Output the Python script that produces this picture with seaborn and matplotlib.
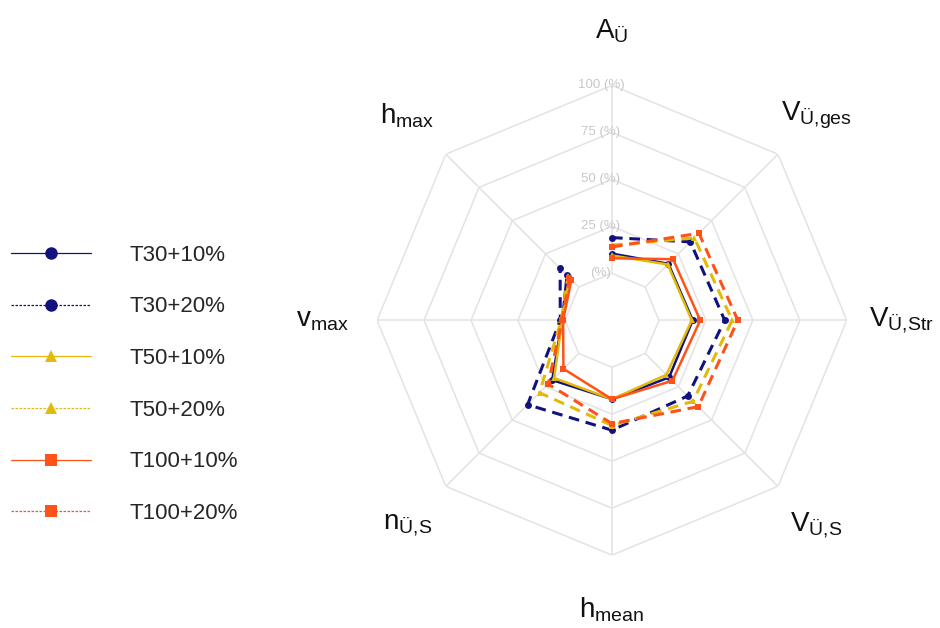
import matplotlib
matplotlib.use("Agg")
import matplotlib.pyplot as plt
from matplotlib.lines import Line2D
import numpy as np
import pandas as pd
import seaborn as sns

axis_labels = [
    r"$\mathregular{A_{Ü}}$",
    r"$\mathregular{V_{Ü{,}ges}}$",
    r"$\mathregular{V_{Ü{,}Str}}$",
    r"$\mathregular{V_{Ü{,}S}}$",
    r"$\mathregular{h_{mean}}$",
    r"$\mathregular{n_{Ü{,}S}}$",
    r"$\mathregular{v_{max}}$",
    r"$\mathregular{h_{max}}$",
]

series_names = ["T30+10%", "T30+20%", "T50+10%", "T50+20%", "T100+10%", "T100+20%"]

# values in % per axis (A, Vges, VStr, VS, hmean, nS, vmax, hmax)
t30_10 = [10.5, 17.5, 18.0, 18.0, 17.0, 20.0, 1.5, 9.0]
t30_20 = [19.0, 34.0, 35.0, 32.0, 33.5, 38.5, 2.5, 14.0]
t50_10 = [9.5, 17.0, 17.5, 16.0, 17.0, 18.5, 1.5, 7.0]
t50_20 = [15.0, 37.0, 39.0, 36.0, 31.0, 29.5, 2.0, 8.0]
t100_10 = [8.0, 21.0, 22.0, 20.5, 17.0, 11.5, 1.0, 5.5]
t100_20 = [14.0, 40.5, 42.0, 40.0, 30.0, 23.0, 1.5, 7.0]

ring_values = [0, 25, 50, 75, 100]
ring_labels = ["(%)", "25 (%)", "50 (%)", "75 (%)", "100 (%)"]

series_values = [t30_10, t30_20, t50_10, t50_20, t100_10, t100_20]
colors = ["#12127f", "#12127f", "#e3b90a", "#e3b90a", "#ff5218", "#ff5218"]
markers = ["o", "o", "^", "^", "s", "s"]
solid = [True, False, True, False, True, False]

sns.set_style("white")
plt.rcParams["font.family"] = ["Liberation Sans", "DejaVu Sans"]

fig = plt.figure(figsize=(9.4, 6.28), dpi=100)
ax = fig.add_axes([0.401, 0.116, 0.5, 0.748], projection="polar")
ax.set_theta_zero_location("N")
ax.set_theta_direction(-1)
ax.set_ylim(-25, 100)
ax.axis("off")

n = len(axis_labels)
theta = np.linspace(0, 2 * np.pi, n, endpoint=False)
theta_closed = np.append(theta, theta[0])

# octagon grid
for rv in ring_values:
    ax.plot(theta_closed, [rv] * (n + 1), color="#e3e3e3", lw=1.1, zorder=1)
for t in theta:
    ax.plot([t, t], [ring_values[0], ring_values[-1]], color="#e3e3e3", lw=1.1, zorder=1)
for rv, lab in zip(ring_values, ring_labels):
    ax.annotate(lab, xy=(0, rv), xytext=(-8, 0), textcoords="offset points",
                ha="center", va="center", fontsize=9.5, color="#c8c8c8", zorder=2)

# series
rows = []
for name, vals in zip(series_names, series_values):
    for t, v in zip(theta_closed, vals + vals[:1]):
        rows.append({"series": name, "theta": t, "value": v})
df = pd.DataFrame(rows)

for name, c, m, s in zip(series_names, colors, markers, solid):
    sub = df[df["series"] == name]
    ls = "-" if s else (0, (3.5, 2.2))
    sns.lineplot(data=sub, x="theta", y="value", ax=ax, sort=False, color=c,
                 linestyle=ls, linewidth=1.8 if s else 2.2, marker=m,
                 markersize=5, markeredgewidth=0, zorder=3)

for t, lab in zip(theta, axis_labels):
    ax.text(t, 129, lab, ha="center", va="center", fontsize=20, color="#111111")

# legend on the left
handles = []
for c, m, s in zip(colors, markers, solid):
    handles.append(Line2D([0], [0], color=c, lw=0.9,
                          linestyle="-" if s else (0, (2, 1.2)),
                          marker=m, markersize=9, markeredgewidth=0))
fig.legend(handles, series_names, loc="center left", bbox_to_anchor=(0.002, 0.388),
           frameon=False, fontsize=16, handlelength=3.6, handletextpad=1.75,
           labelspacing=1.38, borderaxespad=0)

fig.savefig("out.png", dpi=100)
